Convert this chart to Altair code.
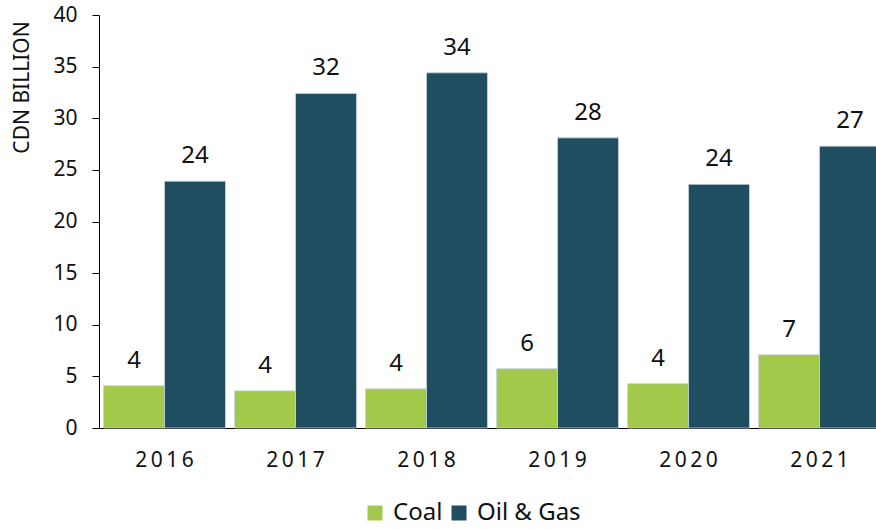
import altair as alt
import pandas as pd

years = ["2016", "2017", "2018", "2019", "2020", "2021"]
coal = [4.1, 3.6, 3.8, 5.75, 4.3, 7.1]
oil_gas = [23.9, 32.4, 34.4, 28.1, 23.6, 27.3]
series = ["Coal", "Oil & Gas"]
colors = ["#a3c94a", "#1f4e60"]
y_ticks = [0, 5, 10, 15, 20, 25, 30, 35, 40]

rows = []
for i, y in enumerate(years):
    rows.append({"year": y, "series": "Coal", "value": coal[i]})
    rows.append({"year": y, "series": "Oil & Gas", "value": oil_gas[i]})
df = pd.DataFrame(rows)

FONT = "Noto Sans"

x_enc = alt.X(
    "year:N",
    sort=years,
    scale=alt.Scale(range=[0, 786], paddingInner=9 / 131, paddingOuter=4.5 / 131),
    axis=alt.Axis(
        title=None,
        labelAngle=0,
        ticks=False,
        labelFontSize=21,
        labelColor="#111111",
        labelPadding=21,
        labelExpr="join(split(datum.label, ''), '\u2009')",
        domainColor="#000000",
        domainWidth=1,
    ),
)
xoff = alt.XOffset("series:N", sort=series, scale=alt.Scale(paddingInner=0, paddingOuter=0))
y_enc = alt.Y(
    "value:Q",
    scale=alt.Scale(domain=[0, 40], nice=False),
    axis=alt.Axis(
        values=y_ticks,
        grid=False,
        title="CDN BILLION",
        titleFontSize=21,
        titleFontWeight="normal",
        titleColor="#111111",
        titleAngle=-90,
        titleX=-77,
        titleY=72,
        titleAlign="center",
        titleBaseline="middle",
        labelFontSize=21,
        labelColor="#111111",
        labelPadding=15,
        tickSize=7,
        tickColor="#000000",
        domainColor="#000000",
        domainWidth=1,
    ),
)

bars = alt.Chart(df).mark_bar(stroke="#c9d7df", strokeWidth=0.8).encode(
    x=x_enc,
    xOffset=xoff,
    y=y_enc,
    color=alt.Color(
        "series:N",
        sort=series,
        scale=alt.Scale(domain=series, range=colors),
        legend=alt.Legend(
            title=None,
            orient="none",
            direction="horizontal",
            legendX=264,
            legendY=486,
            symbolType="square",
            symbolSize=225,
            symbolStrokeWidth=0,
            symbolOpacity=1,
            labelFontSize=24,
            labelColor="#111111",
            labelOffset=6,
            columnPadding=4,
            padding=0,
        ),
    ),
)

labels = alt.Chart(df).mark_text(
    baseline="alphabetic", dy=-18, fontSize=24, color="#111111", font=FONT
).encode(
    x=alt.X("year:N", sort=years),
    xOffset=alt.XOffset("series:N", sort=series),
    y=alt.Y("value:Q"),
    text=alt.Text("value:Q", format=".0f"),
)

chart = (
    alt.layer(bars, labels)
    .properties(
        width=777,
        height=413,
        autosize=alt.AutoSizeParams(type="none"),
        padding={"left": 99, "top": 15, "right": 0, "bottom": 101},
    )
    .configure(font=FONT)
    .configure_view(stroke=None)
    .configure_axis(labelFont=FONT, titleFont=FONT)
    .configure_legend(labelFont=FONT)
)

chart.save("out.html", embed_options={"renderer": "svg", "actions": False})
